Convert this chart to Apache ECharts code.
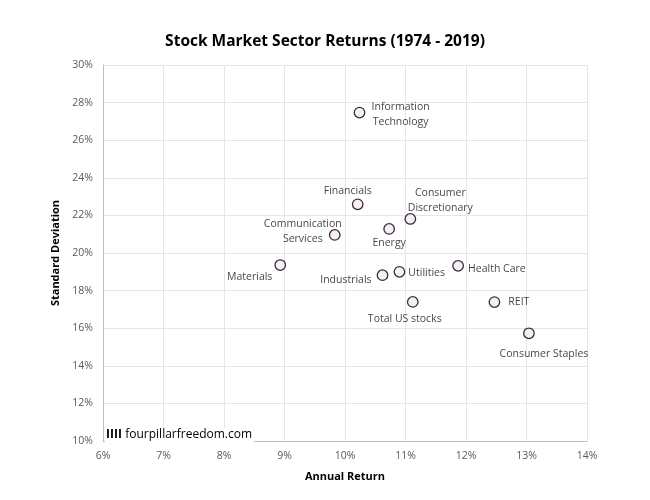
<!DOCTYPE html>
<html><head><meta charset="utf-8">
<script src="https://cdn.jsdelivr.net/npm/echarts@6/dist/echarts.min.js"></script>
<style>html,body{margin:0;padding:0;background:#fff}#c{width:650px;height:500px}</style>
</head><body><div id="c"></div>
<script>
const sectors = ["Information\nTechnology","Financials","Consumer\nDiscretionary","Energy","Communication\nServices","Materials","Industrials","Utilities","Health Care","Total US stocks","REIT","Consumer Staples"];
const annualReturn = [10.24,10.21,11.08,10.73,9.83,8.93,10.62,10.90,11.87,11.12,12.47,13.04];
const stdDev = [27.47,22.59,21.81,21.28,20.96,19.36,18.82,19.00,19.32,17.40,17.39,15.73];
const xTicks = [6,7,8,9,10,11,12,13,14];
const yTicks = [10,12,14,16,18,20,22,24,26,28,30];

// label placement (layout, not data)
const labelLayout = {
  "Information\nTechnology": {position:[47,-7]},
  "Financials": {position:'top', distance:5, dx:-10, dy:5},
  "Consumer\nDiscretionary": {position:'top', distance:4, dx:30, dy:6},
  "Energy": {position:'bottom', distance:3, dx:0, dy:-2},
  "Communication\nServices": {position:'left', distance:8, dx:-18, dy:-3, center:true},
  "Materials": {position:'left', distance:5, dx:3, dy:12},
  "Industrials": {position:'left', distance:6, dx:1, dy:5},
  "Utilities": {position:'right', distance:3, dy:1},
  "Health Care": {position:'right', distance:4, dy:3},
  "Total US stocks": {position:'bottom', distance:5, dx:-8, dy:-1},
  "REIT": {position:'right', distance:8, dy:0},
  "Consumer Staples": {position:'bottom', distance:6, dx:15, dy:1}
};
const FONT = '"Open Sans", "Noto Sans", sans-serif';
const data = sectors.map((s,i)=>{
  const L = labelLayout[s];
  const lab = {show:true, formatter:s, fontFamily:FONT, fontSize:10.5, color:'#111', lineHeight:15, align:'center'};
  if (Array.isArray(L.position)) {
    lab.position = L.position;
    lab.align='center'; lab.verticalAlign='top';
  } else {
    lab.position = L.position; lab.distance = L.distance;
    lab.offset = [L.dx||0, L.dy||0];
    if (L.position==='left') lab.align = L.center ? 'center' : 'right';
    if (L.position==='right') lab.align = 'left';
  }
  return {value:[annualReturn[i], stdDev[i]], name:s, label:lab};
});

const chart = echarts.init(document.getElementById('c'), null, {renderer:'canvas'});
chart.setOption({
  animation:false,
  backgroundColor:'#fff',
  title:{text:'Stock Market Sector Returns (1974 - 2019)', left:'center', top:29,
    textStyle:{fontFamily:FONT, fontSize:15.5, fontWeight:'bold', color:'#000'}},
  grid:{left:103, right:63, top:65, bottom:59, containLabel:false},
  xAxis:{type:'value', min:6, max:14, interval:1, name:'Annual Return', nameLocation:'middle', nameGap:30,
    nameTextStyle:{fontFamily:FONT, fontSize:11, fontWeight:'bold', color:'#000'},
    axisLine:{show:true, lineStyle:{color:'#bfbfbf'}}, axisTick:{show:false},
    axisLabel:{formatter:v=>xTicks.includes(v)? v+'%':'', fontFamily:FONT, fontSize:10.5, color:'#595959', margin:10},
    splitLine:{show:true, lineStyle:{color:'#e6e6e6'}}},
  yAxis:{type:'value', min:10, max:30, interval:2, name:'Standard Deviation', nameLocation:'middle', nameGap:34, nameRotate:90,
    nameTextStyle:{fontFamily:FONT, fontSize:11, fontWeight:'bold', color:'#000'},
    axisLine:{show:true, lineStyle:{color:'#bfbfbf'}}, axisTick:{show:false},
    axisLabel:{formatter:v=>yTicks.includes(v)? v+'%':'', fontFamily:FONT, fontSize:10.5, color:'#595959', margin:10},
    splitLine:{show:true, lineStyle:{color:'#e6e6e6'}}},
  graphic:[{type:'text', left:105, top:428, z:100, zlevel:0,
    style:{backgroundColor:'#fff', padding:[1,2,1,1],
      rich:{b:{fontWeight:'bold', fontFamily:FONT, fontSize:12, fill:'#000'}, n:{fontFamily:FONT, fontSize:12, fill:'#000'}},
      text:'{b|IIII} {n|fourpillarfreedom.com}'}}],
  series:[{type:'scatter', symbol:'circle', symbolSize:10.5,
    itemStyle:{color:'#f6e8f6', borderColor:'#000', borderWidth:1.3},
    data:data}]
});
</script></body></html>
